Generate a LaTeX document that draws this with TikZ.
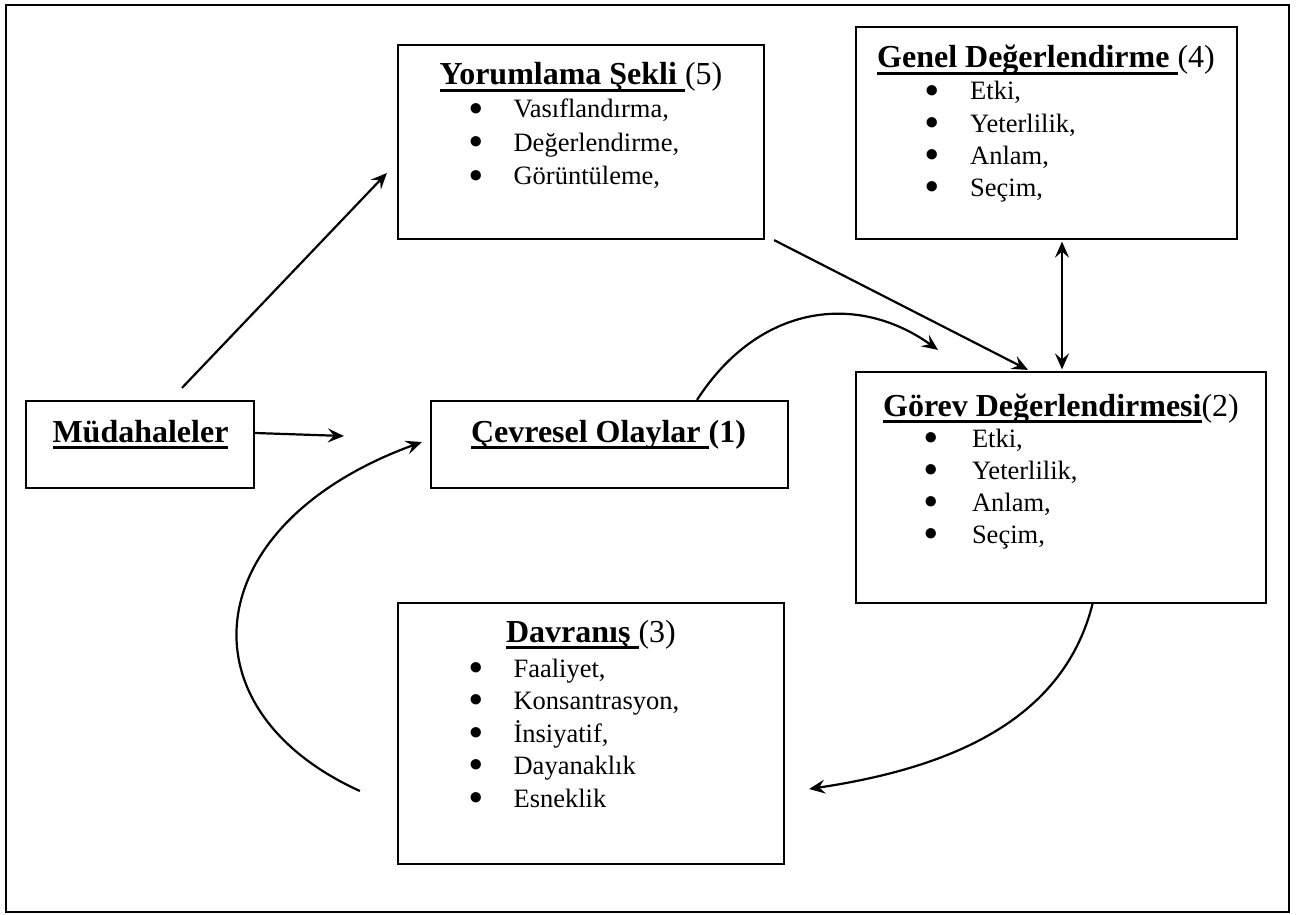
\documentclass[tikz,border=0pt]{standalone}
\usepackage{fontspec}
\setmainfont{Liberation Serif}
\usetikzlibrary{arrows.meta}

% thick underline that sits well below the baseline
\newsavebox\undlbox
\newcommand\undl[1]{\sbox\undlbox{#1}\rlap{\rule[-7pt]{\wd\undlbox}{3pt}}\usebox\undlbox}
% one list entry: a round bullet in a fixed-width slot, then the text
\newcommand\itm[2][45pt]{\makebox[#1][l]{\raisebox{2.7pt}{\fontsize{24}{24}\selectfont ●}}#2}

\begin{document}
\begin{tikzpicture}[x=1pt,y=-1pt,
  box/.style={draw, line width=2.2pt, inner sep=0pt, rectangle},
  ttl/.style={inner sep=0pt, anchor=base, font=\fontsize{32}{38}\selectfont},
  lst/.style={inner sep=0pt, anchor=base west},
  tip/.tip={Stealth[length=16pt,width=14pt,inset=6pt]},
  arr/.style={line width=2.2pt, -tip},
  dbl/.style={line width=2.2pt, tip-tip}]
\useasboundingbox (0,0) rectangle (1299,915);

% outer frame
\node[box, minimum width=1283, minimum height=907] (frame) at (647.5,458.5) {};

% boxes
\node[box, minimum width=366, minimum height=194] (yor) at (581,142) {};
\node[box, minimum width=381, minimum height=212] (gen) at (1046.5,133) {};
\node[box, minimum width=410, minimum height=231] (gor) at (1061,487.5) {};
\node[box, minimum width=228, minimum height=87]  (mud) at (140,444.5) {};
\node[box, minimum width=357, minimum height=87]  (cev) at (609.5,444.5) {};
\node[box, minimum width=386, minimum height=261] (dav) at (591,733.5) {};

% titles
\node[ttl] (yor-t) at (581,85)  {\bfseries\undl{Yorumlama Şekli }\mdseries(5)};
\node[ttl] (gen-t) at (1046,68) {\bfseries\undl{Genel Değerlendirme }\mdseries(4)};
\node[ttl] (gor-t) at (1061,416) {\bfseries\undl{Görev Değerlendirmesi}\mdseries(2)};
\node[ttl] (mud-t) at (140.5,442) {\bfseries\undl{Müdahaleler}};
\node[ttl] (cev-t) at (608.5,442) {\bfseries\undl{Çevresel Olaylar }(1)};
\node[ttl] (dav-t) at (591,642) {\bfseries\undl{Davranış }\mdseries(3)};

% bullet lists
\node[lst, font=\fontsize{26.5}{33.5}\selectfont] (yor-l) at (468.4,118) {%
  \begin{tabular}[t]{@{}l@{}}
  \itm{Vasıflandırma,}\\
  \itm{Değerlendirme,}\\
  \itm{Görüntüleme,}
  \end{tabular}};
\node[lst, font=\fontsize{26.5}{32.2}\selectfont] (gen-l) at (924.4,100) {%
  \begin{tabular}[t]{@{}l@{}}
  \itm[45.6pt]{Etki,}\\
  \itm[45.6pt]{Yeterlilik,}\\
  \itm[45.6pt]{Anlam,}\\
  \itm[45.6pt]{Seçim,}
  \end{tabular}};
\node[lst, font=\fontsize{26.5}{32}\selectfont] (gor-l) at (923.4,447) {%
  \begin{tabular}[t]{@{}l@{}}
  \itm[48.4pt]{Etki,}\\
  \itm[48.4pt]{Yeterlilik,}\\
  \itm[48.4pt]{Anlam,}\\
  \itm[48.4pt]{Seçim,}
  \end{tabular}};
\node[lst, font=\fontsize{26.5}{32.5}\selectfont] (dav-l) at (468.4,677) {%
  \begin{tabular}[t]{@{}l@{}}
  \itm{Faaliyet,}\\
  \itm{Konsantrasyon,}\\
  \itm{İnsiyatif,}\\
  \itm{Dayanaklık}\\
  \itm{Esneklik}
  \end{tabular}};

% connectors
\draw[arr] ([shift={(42,-12)}]mud.north) -- ([shift={(-10,31)}]yor.west);
\draw[arr] ([shift={(0,-11.5)}]mud.east) -- ([shift={(-86,-8.5)}]cev.west);
\draw[arr] ([shift={(-37,57.5)}]dav.west) .. controls (179,709) and (197,524) .. ([shift={(-8,-2.5)}]cev.west);
\draw[arr] ([shift={(87.5,0)}]cev.north) .. controls (759,304) and (857,292) .. ([shift={(-123,-21)}]gor.north);
\draw[arr] ([shift={(9,0)}]yor.south east) -- ([shift={(-33,-1)}]gor.north);
\draw[dbl] ([shift={(15.5,1.5)}]gen.south) -- ([shift={(1,-1.5)}]gor.north);
\draw[arr] ([shift={(32,-2)}]gor.south) .. controls (1065,717) and (957,767) .. ([shift={(24,55.5)}]dav.east);
\end{tikzpicture}
\end{document}
